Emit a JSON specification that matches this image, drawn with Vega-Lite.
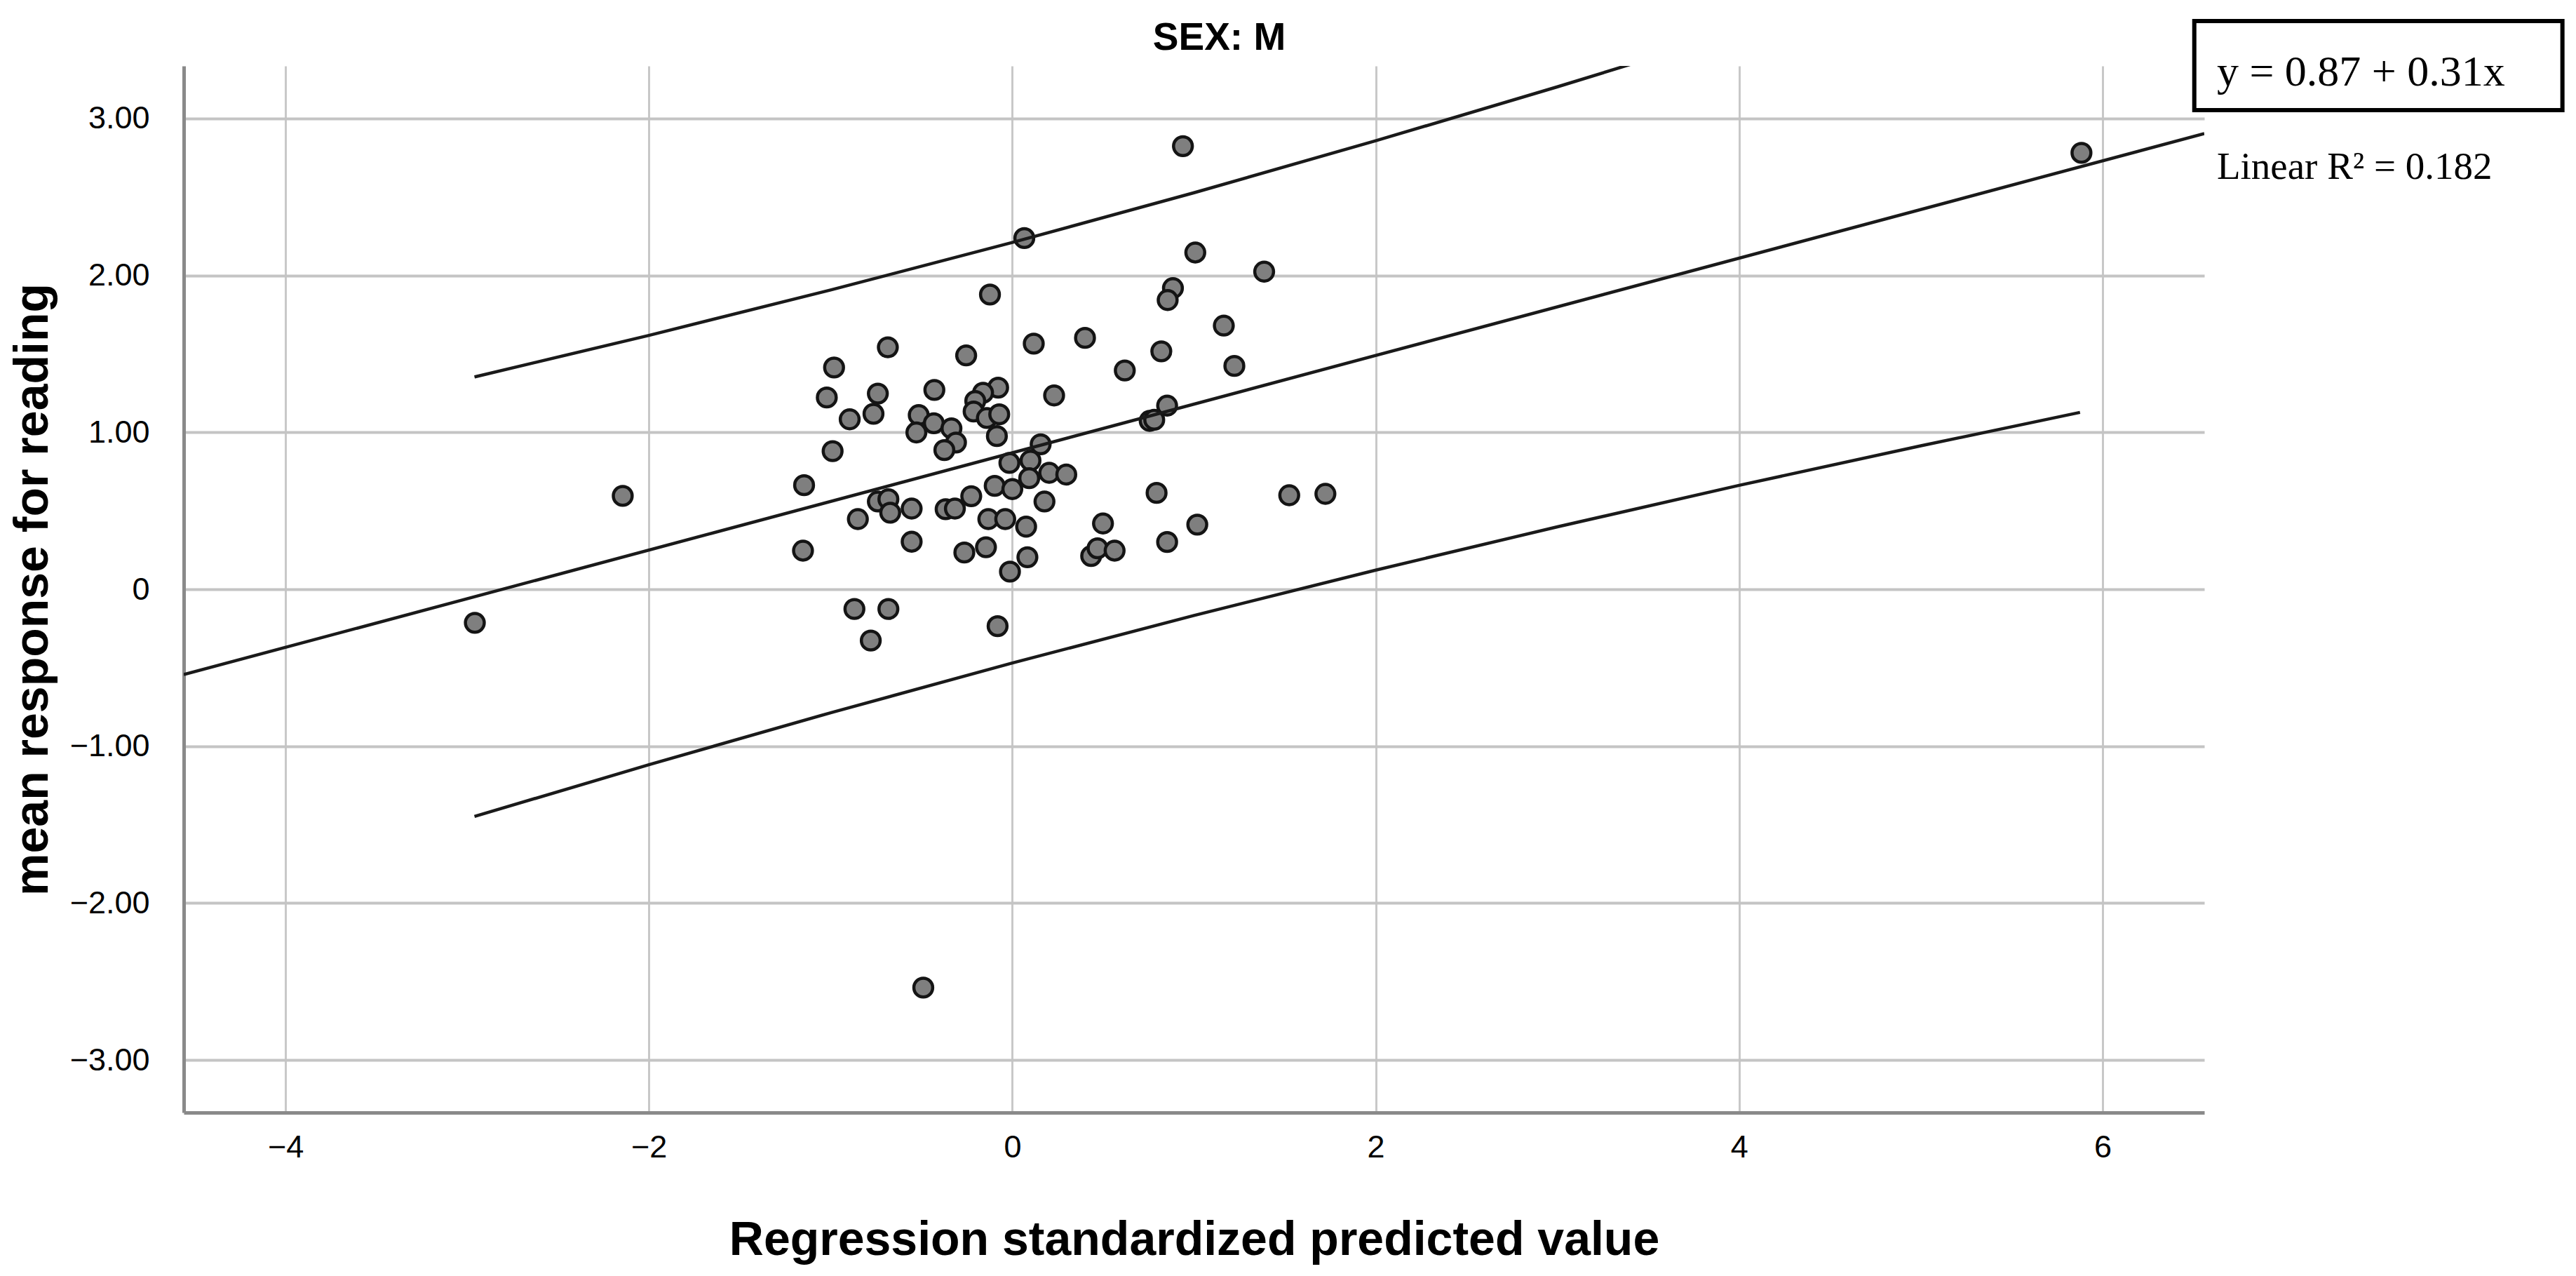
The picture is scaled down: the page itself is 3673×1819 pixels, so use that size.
{
  "$schema": "https://vega.github.io/schema/vega-lite/v6.json",
  "width": 2881,
  "height": 1492,
  "autosize": {"type": "none"},
  "padding": {"left": 262, "top": 94, "right": 530, "bottom": 233},
  "background": "white",
  "title": {"text": "SEX: M", "font": "Liberation Sans", "fontSize": 55, "fontWeight": "bold", "color": "#000000", "anchor": "middle", "frame": "group", "baseline": "alphabetic", "offset": 25, "dx": 36, "dy": 124},
  "config": {
    "view": {"stroke": null},
    "axis": {"labelFont": "Liberation Sans", "titleFont": "Liberation Sans", "labelColor": "#000000", "titleColor": "#000000", "ticks": false, "tickSize": 0, "labelFlush": false, "labelOverlap": false, "domainColor": "#8a8a8a", "domainWidth": 5, "grid": true}
  },
  "datasets": {
    "points": [
      {"x": 0.066, "y": 2.238}, {"x": -0.123, "y": 1.878}, {"x": 0.118, "y": 1.565}, {"x": 0.40, "y": 1.602},
      {"x": -0.685, "y": 1.542}, {"x": -0.254, "y": 1.49}, {"x": -0.981, "y": 1.413}, {"x": -1.021, "y": 1.222},
      {"x": -0.74, "y": 1.247}, {"x": -0.429, "y": 1.27}, {"x": -0.895, "y": 1.083}, {"x": -0.764, "y": 1.118},
      {"x": 0.23, "y": 1.235}, {"x": -0.078, "y": 1.285}, {"x": -0.161, "y": 1.252}, {"x": -0.204, "y": 1.2},
      {"x": -0.213, "y": 1.133}, {"x": -0.14, "y": 1.091}, {"x": -0.072, "y": 1.115}, {"x": -0.085, "y": 0.976},
      {"x": -0.515, "y": 1.11}, {"x": -0.432, "y": 1.058}, {"x": -0.528, "y": 0.999}, {"x": -0.335, "y": 1.025},
      {"x": -0.31, "y": 0.935}, {"x": -0.374, "y": 0.887}, {"x": -0.989, "y": 0.88}, {"x": 0.156, "y": 0.924},
      {"x": -1.146, "y": 0.663}, {"x": -0.016, "y": 0.805}, {"x": 0.1, "y": 0.82}, {"x": 0.203, "y": 0.742},
      {"x": 0.297, "y": 0.731}, {"x": 0.093, "y": 0.708}, {"x": -0.097, "y": 0.659}, {"x": 0.0, "y": 0.638},
      {"x": -0.226, "y": 0.593}, {"x": 0.177, "y": 0.559}, {"x": -0.74, "y": 0.559}, {"x": -0.682, "y": 0.574},
      {"x": -0.672, "y": 0.488}, {"x": -0.554, "y": 0.514}, {"x": -0.367, "y": 0.51}, {"x": -0.316, "y": 0.514},
      {"x": -0.85, "y": 0.447}, {"x": -0.132, "y": 0.447}, {"x": -0.039, "y": 0.447}, {"x": 0.076, "y": 0.399},
      {"x": -0.554, "y": 0.303}, {"x": -1.152, "y": 0.246}, {"x": -0.264, "y": 0.234}, {"x": -0.145, "y": 0.268},
      {"x": 0.083, "y": 0.204}, {"x": -0.013, "y": 0.112}, {"x": 0.434, "y": 0.212}, {"x": -0.869, "y": -0.126},
      {"x": -0.682, "y": -0.126}, {"x": -0.779, "y": -0.327}, {"x": -0.081, "y": -0.235}, {"x": 0.939, "y": 2.824},
      {"x": 1.007, "y": 2.146}, {"x": 1.386, "y": 2.024}, {"x": 0.884, "y": 1.919}, {"x": 0.855, "y": 1.843},
      {"x": 1.164, "y": 1.68}, {"x": 0.82, "y": 1.516}, {"x": 0.619, "y": 1.394}, {"x": 1.222, "y": 1.423},
      {"x": 0.852, "y": 1.17}, {"x": 0.756, "y": 1.073}, {"x": 0.781, "y": 1.08}, {"x": 0.794, "y": 0.614},
      {"x": 1.524, "y": 0.599}, {"x": 1.723, "y": 0.608}, {"x": 0.499, "y": 0.419}, {"x": 1.018, "y": 0.412},
      {"x": 0.852, "y": 0.301}, {"x": 0.469, "y": 0.261}, {"x": 0.563, "y": 0.246}, {"x": -2.958, "y": -0.214},
      {"x": -2.144, "y": 0.595}, {"x": -0.49, "y": -2.539}, {"x": 5.884, "y": 2.781}
    ],
    "fit": [
      {"x": -4.56, "y": -0.544},
      {"x": 6.56, "y": 2.904}
    ],
    "interval": [
      {"x": -2.96, "upper": 1.353, "lower": -1.448},
      {"x": -2.0, "upper": 1.618, "lower": -1.118},
      {"x": -1.0, "upper": 1.907, "lower": -0.787},
      {"x": 0.0, "upper": 2.21, "lower": -0.47},
      {"x": 1.0, "upper": 2.527, "lower": -0.167},
      {"x": 2.0, "upper": 2.858, "lower": 0.122},
      {"x": 3.0, "upper": 3.202, "lower": 0.398},
      {"x": 4.0, "upper": 3.558, "lower": 0.662},
      {"x": 5.0, "upper": 3.926, "lower": 0.914},
      {"x": 5.876, "upper": 4.256, "lower": 1.127}
    ]
  },
  "layer": [
    {
      "data": {"name": "points"},
      "mark": {"type": "point", "shape": "circle", "filled": true, "fill": "#7f7f7f", "stroke": "#141414", "strokeWidth": 4.5, "size": 720, "opacity": 1, "fillOpacity": 1},
      "encoding": {
        "x": {"field": "x", "type": "quantitative", "scale": {"domain": [-4.56, 6.56], "nice": false, "zero": false},
          "axis": {"values": [-4, -2, 0, 2, 4, 6], "format": "d", "title": "Regression standardized predicted value", "labelFontSize": 45, "labelPadding": 27, "titleFontSize": 68, "titleFontWeight": "bold", "titlePadding": 76, "gridColor": "#c8c8c8", "gridWidth": 3}},
        "y": {"field": "y", "type": "quantitative", "scale": {"domain": [-3.335, 3.335], "nice": false, "zero": false},
          "axis": {"values": [-3, -2, -1, 0, 1, 2, 3], "labelExpr": "datum.value == 0 ? '0' : format(datum.value, '.2f')", "title": "mean response for reading", "labelFontSize": 45, "labelPadding": 49, "titleFontSize": 68, "titleFontWeight": "bold", "titlePadding": 18, "gridColor": "#c4c4c4", "gridWidth": 4}}
      }
    },
    {
      "data": {"name": "fit"},
      "mark": {"type": "line", "color": "#1a1a1a", "strokeWidth": 4.5, "clip": true},
      "encoding": {
        "x": {"field": "x", "type": "quantitative", "scale": {"domain": [-4.56, 6.56], "nice": false, "zero": false}},
        "y": {"field": "y", "type": "quantitative", "scale": {"domain": [-3.335, 3.335], "nice": false, "zero": false}}
      }
    },
    {
      "data": {"name": "interval"},
      "mark": {"type": "line", "color": "#1a1a1a", "strokeWidth": 4.5, "clip": true, "interpolate": "monotone"},
      "encoding": {
        "x": {"field": "x", "type": "quantitative", "scale": {"domain": [-4.56, 6.56], "nice": false, "zero": false}},
        "y": {"field": "upper", "type": "quantitative", "scale": {"domain": [-3.335, 3.335], "nice": false, "zero": false}}
      }
    },
    {
      "data": {"name": "interval"},
      "mark": {"type": "line", "color": "#1a1a1a", "strokeWidth": 4.5, "clip": true, "interpolate": "monotone"},
      "encoding": {
        "x": {"field": "x", "type": "quantitative", "scale": {"domain": [-4.56, 6.56], "nice": false, "zero": false}},
        "y": {"field": "lower", "type": "quantitative", "scale": {"domain": [-3.335, 3.335], "nice": false, "zero": false}}
      }
    },
    {
      "data": {"values": [{}]},
      "mark": {"type": "rect", "fill": "white", "stroke": "black", "strokeWidth": 6},
      "encoding": {
        "x": {"datum": 6.505, "type": "quantitative", "scale": {"domain": [-4.56, 6.56], "nice": false, "zero": false}},
        "x2": {"datum": 8.531},
        "y": {"datum": 3.621, "type": "quantitative", "scale": {"domain": [-3.335, 3.335], "nice": false, "zero": false}},
        "y2": {"datum": 3.053}
      }
    },
    {
      "data": {"values": [{}]},
      "mark": {"type": "text", "text": "y = 0.87 + 0.31x", "font": "Liberation Serif", "fontSize": 62, "align": "left", "baseline": "alphabetic", "color": "black"},
      "encoding": {
        "x": {"datum": 6.629, "type": "quantitative", "scale": {"domain": [-4.56, 6.56], "nice": false, "zero": false}},
        "y": {"datum": 3.211, "type": "quantitative", "scale": {"domain": [-3.335, 3.335], "nice": false, "zero": false}}
      }
    },
    {
      "data": {"values": [{}]},
      "mark": {"type": "text", "text": "Linear R² = 0.182", "font": "Liberation Serif", "fontSize": 55, "align": "left", "baseline": "alphabetic", "color": "black"},
      "encoding": {
        "x": {"datum": 6.629, "type": "quantitative", "scale": {"domain": [-4.56, 6.56], "nice": false, "zero": false}},
        "y": {"datum": 2.615, "type": "quantitative", "scale": {"domain": [-3.335, 3.335], "nice": false, "zero": false}}
      }
    }
  ]
}
